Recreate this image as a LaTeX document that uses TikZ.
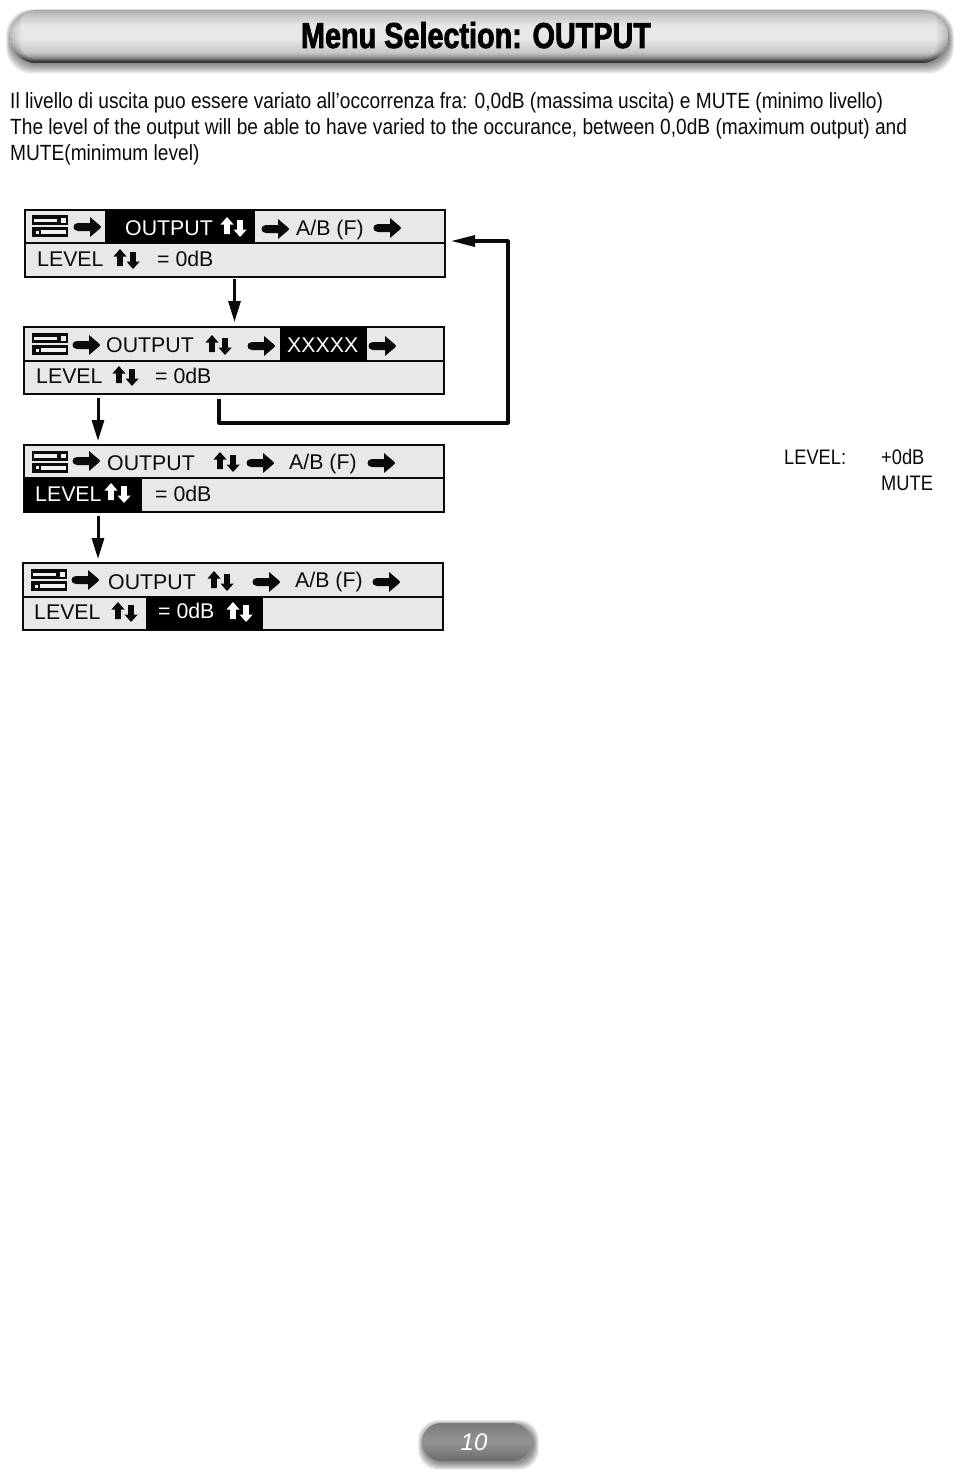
\documentclass[tikz,border=0pt]{standalone}
\usepackage{fontspec}
\usetikzlibrary{arrows.meta}
\setmainfont{Liberation Sans}
\newfontfamily\narrowfont[FakeStretch=0.87]{Liberation Sans}
\newfontfamily\titlefont[FakeStretch=0.80,FakeBold=2]{Liberation Sans Bold}
\definecolor{panel}{HTML}{E8E8E8}
\definecolor{ink}{HTML}{0A0A0A}
\pgfdeclareverticalshading{titlebar}{100bp}{
  color(0bp)=(black!72);
  color(25bp)=(black!72);
  color(29bp)=(black!50);
  color(35bp)=(black!22);
  color(48bp)=(panel);
  color(60bp)=(panel);
  color(70bp)=(black!22);
  color(75bp)=(black!34);
  color(100bp)=(black!34)}
\tikzset{
  x=1pt,y=-1pt,
  panelbox/.style={draw=ink,line width=1.8pt,fill=panel,inner sep=0pt,outer sep=0pt,minimum width=420pt,minimum height=67pt,anchor=north west},
  highlight/.style={fill=black,inner sep=0pt,outer sep=0pt,anchor=north west},
  lcd/.style={anchor=base west,inner sep=0pt,text=ink,font=\fontsize{21.3}{21.3}\selectfont},
  lcdwhite/.style={lcd,text=white},
  para/.style={anchor=base west,inner sep=0pt,text=ink,font=\narrowfont\fontsize{22}{22}\selectfont},
  sidevalue/.style={para,font=\narrowfont\fontsize{21}{21}\selectfont},
  flow/.style={draw=ink,line width=3pt,-{Triangle[length=21pt,width=12pt]}},
  feedback/.style={draw=ink,line width=3.2pt,line join=round,-{Triangle[length=24pt,width=11pt]}},
  rarrow/.pic={
    \path[pic actions,draw=none,line join=round]
      (-9,-4) .. controls (-15,-4) and (-15,4) .. (-9,4) -- (3,4) -- (3,10) -- (13,1.5) .. controls (14.4,0.5) and (14.4,-0.5) .. (13,-1.5) -- (3,-10) -- (3,-4) -- cycle;
  },
  updown/.pic={
    \path[pic actions,draw=none]
      (-7,-10) -- (-13.5,-2.5) -- (-9.8,-2.5) -- (-9.8,7) -- (-4.2,7) -- (-4.2,-2.5) -- (-0.5,-2.5) -- cycle
      (6,10) -- (-0.5,2.5) -- (3.2,2.5) -- (3.2,-7) -- (8.8,-7) -- (8.8,2.5) -- (12.8,2.5) -- cycle;
  },
  device/.pic={
    \fill[ink] (-18,-11) rectangle (18,-1);
    \fill[ink] (-18,1) rectangle (18,11);
    \fill[panel!60!white] (-16,-7.5) rectangle (7,-4);
    \fill[panel!60!white] (11,-8) rectangle (16,-3.5);
    \fill[panel!60!white] (-9,4) rectangle (16,8);
    \fill[panel!60!white] (-14.5,4.5) rectangle (-11,7.5);
  },
}
\begin{document}
\begin{tikzpicture}
\useasboundingbox (0,0) rectangle (960,1480);
\fill[white] (0,0) rectangle (960,1480);

% Title bar: soft shadow, vertical gradient, darkened rim
\foreach \g in {0,...,11}{
  \pgfmathsetmacro{\ex}{12-\g}
  \fill[black,opacity=.05,rounded corners=26pt]
    ({12-0.5*\ex},{16-0.6*\ex}) rectangle ({948+0.5*\ex},{62+\ex});
}
\shade[rounded corners=26pt,shading=titlebar] (10,10) rectangle (948,63);
\begin{scope}
  \clip[rounded corners=26pt] (10,10) rectangle (948,63);
  \foreach \g in {0,...,11}{
    \pgfmathsetmacro{\op}{.15*(1-\g/12)}
    \draw[black,line width=1.4pt,opacity=\op,rounded corners={26-\g}]
      ({10+\g},{4+0.4*\g}) rectangle ({948-\g},{63-0.4*\g});
  }
\end{scope}
\node[anchor=base,inner sep=0pt,text=black,font=\titlefont\fontsize{36}{36}\selectfont] (title) at (476,48) {Menu Selection: OUTPUT};

% Introductory text
\node[para] (lineA) at (10,108) {Il livello di uscita puo essere variato all’occorrenza fra: 0,0dB (massima uscita) e MUTE (minimo livello)};
\node[para] (lineB) at (10,134) {The level of the output will be able to have varied to the occurance, between 0,0dB (maximum output) and};
\node[para] (lineC) at (10,160) {MUTE(minimum level)};

% Menu panels
\node[panelbox] (boxA) at (25,210) {};
\node[panelbox] (boxB) at (24,327) {};
\node[panelbox] (boxC) at (24,445) {};
\node[panelbox] (boxD) at (23,563) {};
\draw[ink,line width=1.8pt] (boxA.west |- 0,243) -- (boxA.east |- 0,243);
\draw[ink,line width=1.8pt] (boxB.west |- 0,361) -- (boxB.east |- 0,361);
\draw[ink,line width=1.8pt] (boxC.west |- 0,478) -- (boxC.east |- 0,478);
\draw[ink,line width=1.8pt] (boxD.west |- 0,597) -- (boxD.east |- 0,597);

% Highlighted menu entries
\node[highlight,minimum width=150pt,minimum height=33pt] (hiA) at (105,210) {};
\node[highlight,minimum width=87pt,minimum height=34pt] (hiB) at (280,327) {};
\node[highlight,minimum width=118pt,minimum height=34pt] (hiC) at (24,478) {};
\node[highlight,minimum width=117pt,minimum height=33pt] (hiD) at (146,597) {};

% Panel A
\pic at (50,226) {device};
\pic[fill=ink] at (87,227) {rarrow};
\node[lcdwhite] (outA) at (125,235) {OUTPUT};
\pic[fill=white] at (234,227) {updown};
\pic[fill=ink] at (275,229) {rarrow};
\node[lcd] (abA) at (296,235) {A/B (F)};
\pic[fill=ink] at (387,228) {rarrow};
\node[lcd] (levA) at (37,266) {LEVEL};
\pic[fill=ink] at (127,259) {updown};
\node[lcd] (dbA) at (157,266) {= 0dB};

% Panel B
\pic at (50,344) {device};
\pic[fill=ink] at (86,345) {rarrow};
\node[lcd] (outB) at (106,352) {OUTPUT};
\pic[fill=ink] at (219,345) {updown};
\pic[fill=ink] at (261,346) {rarrow};
\node[lcdwhite] (abB) at (287,352) {XXXXX};
\pic[fill=ink] at (382,346) {rarrow};
\node[lcd] (levB) at (36,383) {LEVEL};
\pic[fill=ink] at (126,376) {updown};
\node[lcd] (dbB) at (155,383) {= 0dB};

% Panel C
\pic at (50,461.5) {device};
\pic[fill=ink] at (86,461) {rarrow};
\node[lcd] (outC) at (107,470) {OUTPUT};
\pic[fill=ink] at (227,462) {updown};
\pic[fill=ink] at (260,463) {rarrow};
\node[lcd] (abC) at (289,469) {A/B (F)};
\pic[fill=ink] at (381,463) {rarrow};
\node[lcdwhite] (levC) at (35,501) {LEVEL};
\pic[fill=white] at (118,493) {updown};
\node[lcd] (dbC) at (155,501) {= 0dB};

% Panel D
\pic at (49,580) {device};
\pic[fill=ink] at (85,580) {rarrow};
\node[lcd] (outD) at (108,589) {OUTPUT};
\pic[fill=ink] at (221,581) {updown};
\pic[fill=ink] at (266,582) {rarrow};
\node[lcd] (abD) at (295,587) {A/B (F)};
\pic[fill=ink] at (386,582) {rarrow};
\node[lcd] (levD) at (34,619) {LEVEL};
\pic[fill=ink] at (125,612) {updown};
\node[lcdwhite] (dbD) at (158,618) {= 0dB};
\pic[fill=white] at (240,612) {updown};

% Menu flow
\draw[flow] ([yshift=-2pt]boxA.south -| 234.5,0) -- ([yshift=5pt]boxB.north -| 234.5,0);
\draw[flow] ([yshift=-4pt]boxB.south -| 98,0) -- ([yshift=4pt]boxC.north -| 98,0);
\draw[flow] ([yshift=-4pt]boxC.south -| 98,0) -- ([yshift=4pt]boxD.north -| 98,0);
\draw[feedback] ([yshift=-5pt]boxB.south -| 219,0) -- (219,423) -- (508,423) -- (508,241) -- ([xshift=6pt]boxA.east |- 0,241);

% Level values
\node[sidevalue] (levLabel) at (784,464) {LEVEL:};
\node[sidevalue] (levHigh) at (881,464) {+0dB};
\node[sidevalue] (levMute) at (881,490) {MUTE};

% Page number badge
\foreach \g in {0,...,9}{
  \pgfmathsetmacro{\ex}{10-\g}
  \fill[black,opacity=.055,rounded corners=20pt]
    ({424-0.6*\ex},{1426-0.6*\ex}) rectangle ({533+0.6*\ex},{1462+0.8*\ex});
}
\shade[rounded corners=19pt,top color=black!52,bottom color=black!58,middle color=black!42]
  (422,1423) rectangle (531,1461);
\node[anchor=base,inner sep=0pt,text=white,font=\itshape\fontsize{24}{24}\selectfont] (pageNo) at (474,1450) {10};
\end{tikzpicture}
\end{document}
